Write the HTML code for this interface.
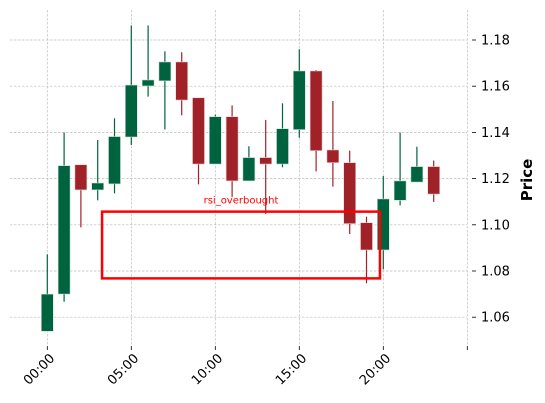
<!DOCTYPE html>
<html><head><meta charset="utf-8"><style>
html,body{margin:0;padding:0;background:#fff;}
svg{display:block;font-family:"DejaVu Sans","Liberation Sans",sans-serif;}
</style></head><body>
<svg id="chart" width="545" height="403"></svg>
<script>
const hours = [0,1,2,3,4,5,6,7,8,9,10,11,12,13,14,15,16,17,18,19,20,21,22,23];
const opens  = [1.0539,1.0700,1.1260,1.1151,1.1177,1.1380,1.1601,1.1623,1.1705,1.1550,1.1263,1.1468,1.1190,1.1291,1.1263,1.1412,1.1666,1.1324,1.1269,1.1009,1.0891,1.1106,1.1185,1.1252];
const closes = [1.0700,1.1256,1.1151,1.1181,1.1382,1.1605,1.1627,1.1705,1.1540,1.1263,1.1468,1.1190,1.1291,1.1263,1.1416,1.1666,1.1321,1.1269,1.1005,1.0891,1.1112,1.1190,1.1252,1.1133];
const highs  = [1.0872,1.1399,1.1260,1.1367,1.1461,1.1863,1.1863,1.1751,1.1747,1.1550,1.1477,1.1517,1.1340,1.1454,1.1526,1.1760,1.1670,1.1536,1.1321,1.1035,1.1211,1.1399,1.1338,1.1278];
const lows   = [1.0539,1.0667,1.0989,1.1106,1.1136,1.1345,1.1555,1.1413,1.1474,1.1175,1.1263,1.1120,1.1190,1.1047,1.1249,1.1377,1.1231,1.1165,1.0960,1.0747,1.0807,1.1084,1.1185,1.1099];
const yTicks = [1.06,1.08,1.10,1.12,1.14,1.16,1.18];
const xTickPos = [0,5,10,15,20,25];
const xTickLabels = ["00:00","05:00","10:00","15:00","20:00",""];
const rectX = [3.26,19.8];
const rectY = [1.0768,1.1057];
const rectLabel = "rsi_overbought";

const PL=10, PR=467, PT=10, PB=345;
const sx = v => 47.3 + 16.8*v;
const sy = v => 40 + (1.18 - v)*2310;
const svg = document.getElementById('chart');
const NS='http://www.w3.org/2000/svg';
function mk(tag, attrs, parent){const e=document.createElementNS(NS,tag);for(const k in attrs)e.setAttribute(k,attrs[k]);(parent||svg).appendChild(e);return e;}

const grid = mk('g',{});


yTicks.forEach(t=>{const l=mk('line',{x1:PL,x2:PR,y1:sy(t),y2:sy(t),stroke:'#bbb','stroke-width':0.7,'stroke-dasharray':'2.5,1.5'},grid);

});
xTickPos.forEach(t=>{const l=mk('line',{x1:sx(t),x2:sx(t),y1:PT,y2:PB,stroke:'#bbb','stroke-width':0.7,'stroke-dasharray':'2.5,1.5'},grid);

});

const candles = mk('g',{});


hours.forEach((h,i)=>{
  const up = closes[i]>=opens[i];
  const col = up ? '#006340' : '#a02128';
  const g = mk('g',{},candles);
  
  
  mk('line',{x1:sx(h),x2:sx(h),y1:sy(highs[i]),y2:sy(lows[i]),stroke:col,'stroke-width':1.2},g);
  const top = sy(Math.max(opens[i],closes[i])), bot = sy(Math.min(opens[i],closes[i]));
  mk('rect',{x:sx(h)-6,y:top,width:12,height:Math.max(bot-top,1),fill:col,stroke:up?'#cde0d7':'#ead0d2','stroke-width':0.6},g);
});

const r = mk('rect',{x:sx(rectX[0]),y:sy(rectY[1]),width:sx(rectX[1])-sx(rectX[0]),height:sy(rectY[0])-sy(rectY[1]),fill:'none',stroke:'#ff0000','stroke-width':2.5});


const rt = mk('text',{x:(sx(rectX[0])+sx(rectX[1]))/2,y:sy(rectY[1])-8,'text-anchor':'middle','font-size':10,fill:'#ff0000'});
rt.textContent = rectLabel;



const yax = mk('g',{});


yTicks.forEach(t=>{
  mk('line',{x1:472,x2:476,y1:sy(t),y2:sy(t),stroke:'#000','stroke-width':0.8},yax);
  const tx = mk('text',{x:481,y:sy(t)+4.5,'font-size':13,fill:'#000'},yax);
  tx.textContent = t.toFixed(2);
  
  
});
const yt = mk('text',{x:0,y:0,'font-size':15,'font-weight':'bold',fill:'#000','text-anchor':'middle',transform:'translate(532,180) rotate(-90)'});
yt.textContent='Price';



const xax = mk('g',{});


xTickPos.forEach((t,i)=>{
  mk('line',{x1:sx(t),x2:sx(t),y1:346,y2:350,stroke:'#000','stroke-width':0.8},xax);
  if(xTickLabels[i]){
    const tx = mk('text',{x:0,y:0,'font-size':13,fill:'#000','text-anchor':'end',transform:`translate(${sx(t)+8},359) rotate(-45)`},xax);
    tx.textContent = xTickLabels[i];
    
    
  }
});
</script>
</body></html>
